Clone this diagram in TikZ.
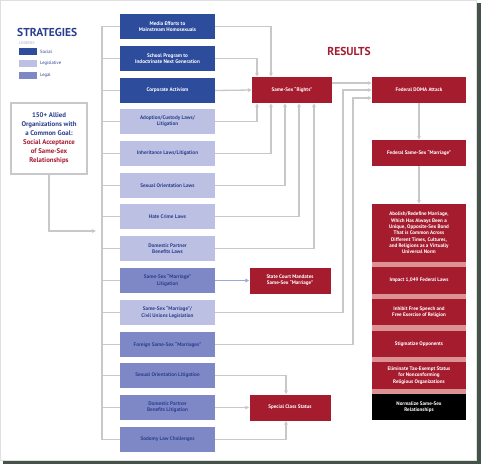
\documentclass[tikz,border=0pt]{standalone}
\usepackage{fontspec}
\setmainfont{PT Sans}
\usetikzlibrary{arrows.meta}
\definecolor{social}{HTML}{2D4C9C}
\definecolor{legis}{HTML}{BCC1E3}
\definecolor{legal}{HTML}{7E88C7}
\definecolor{txtblue}{HTML}{2B3F8F}
\definecolor{resred}{HTML}{A51C2F}
\definecolor{pinksep}{HTML}{DC9193}
\definecolor{conngray}{HTML}{C8C8C8}
\definecolor{bluearrow}{HTML}{9EA7DA}
\definecolor{shadow}{HTML}{44524A}
\tikzset{
  sbox/.style={minimum width=95pt, minimum height=25pt, inner sep=1pt, align=center,
    font=\fontsize{5.2}{6.2}\selectfont\bfseries},
  soc/.style={sbox, fill=social, text=white},
  leg/.style={sbox, fill=legis, text=txtblue},
  lgl/.style={sbox, fill=legal, text=txtblue},
  rbox/.style={fill=resred, text=white, inner sep=1pt, align=center,
    font=\fontsize{5.1}{6.3}\selectfont\bfseries},
  conn/.style={draw=conngray, line width=1.3pt},
  arr/.style={conn, -{Triangle[length=4pt,width=3.6pt]}},
  swatch/.style={minimum width=18pt, minimum height=7pt, inner sep=0pt},
  legtxt/.style={anchor=west, inner sep=0pt, text=txtblue, font=\fontsize{4.6}{5}\selectfont}
}
\begin{document}
\begin{tikzpicture}[x=1pt,y=-1pt]
\useasboundingbox (0,0) rectangle (483,466);
% frame with shadow
\fill[shadow] (3,3) rectangle (481,464);
\fill[white] (0,0) rectangle (477,461);
\draw[gray!25, line width=0.4pt] (0.5,0.5) rectangle (476.5,460.5);

% headings and legend
\node[anchor=west, inner sep=0pt, text=txtblue, font=\fontsize{11.5}{13}\selectfont\bfseries] (strat) at (17,32) {STRATEGIES};
\node[anchor=west, inner sep=0pt, text=txtblue!45, font=\fontsize{4.2}{5}\selectfont] (legend) at (19,43.5) {LEGEND:};
\node[swatch, fill=social, anchor=west] (sw1) at (19,51.5) {};
\node[swatch, fill=legis, anchor=west] (sw2) at (19,63.5) {};
\node[swatch, fill=legal, anchor=west] (sw3) at (19,75) {};
\node[legtxt] (l1) at (40,51.5) {Social};
\node[legtxt] (l2) at (40,63.5) {Legislative};
\node[legtxt] (l3) at (40,75) {Legal};

\node[anchor=center, inner sep=0pt, text=resred, font=\fontsize{11.5}{13}\selectfont\bfseries] (results) at (349,51) {RESULTS};

% goal box
\node[draw=conngray, line width=1.5pt, fill=white, minimum width=76pt, minimum height=71pt, inner sep=1pt,
  align=center, font=\fontsize{6.8}{9}\selectfont\bfseries] (goal) at (49,138.5)
  {\textcolor{txtblue}{150+ Allied}\\\textcolor{txtblue}{Organizations with}\\\textcolor{txtblue}{a Common Goal:}\\
   \textcolor{resred}{Social Acceptance}\\\textcolor{resred}{of Same-Sex}\\\textcolor{resred}{Relationships}};

% strategy boxes
\node[soc] (s1) at (167.5,26.5) {Media Efforts to\\Mainstream Homosexuals};
\node[soc] (s2) at (167.5,58.5) {School Program to\\Indoctrinate Next Generation};
\node[soc] (s3) at (167.5,90.5) {Corporate Activism};
\node[leg] (s4) at (167.5,121.5) {Adoption/Custody Laws/\\Litigation};
\node[leg] (s5) at (167.5,153.5) {Inheritance Laws/Litigation};
\node[leg] (s6) at (167.5,185.5) {Sexual Orientation Laws};
\node[leg] (s7) at (167.5,216.5) {Hate Crime Laws};
\node[leg] (s8) at (167.5,248.5) {Domestic Partner\\Benefits Laws};
\node[lgl] (s9) at (167.5,280.5) {Same-Sex “Marriage”\\Litigation};
\node[leg] (s10) at (167.5,312.5) {Same-Sex “Marriage”/\\Civil Unions Legislation};
\node[lgl] (s11) at (167.5,344.5) {Foreign Same-Sex “Marriages”};
\node[lgl] (s12) at (167.5,375.5) {Sexual Orientation Litigation};
\node[lgl] (s13) at (167.5,407.5) {Domestic Partner\\Benefits Litigation};
\node[lgl] (s14) at (167.5,439.5) {Sodomy Law Challenges};

% result boxes
\node[rbox, minimum width=80pt, minimum height=26pt] (ssr) at (292,90) {Same-Sex “Rights”};
\node[rbox, minimum width=94pt, minimum height=26pt] (doma) at (419,90) {Federal DOMA Attack};
\node[rbox, minimum width=94pt, minimum height=26pt] (fed) at (419,153) {Federal Same-Sex “Marriage”};
\fill[pinksep] (372,258) rectangle (466,398);
\node[rbox, minimum width=94pt, minimum height=58pt] (abol) at (419,233)
  {Abolish/Redefine Marriage,\\Which Has Always Been a\\Unique, Opposite-Sex Bond\\That is Common Across\\Different Times, Cultures,\\and Religions as a Virtually\\Universal Norm};
\node[rbox, minimum width=94pt, minimum height=27pt] (imp) at (419,280.5) {Impact 1,049 Federal Laws};
\node[rbox, minimum width=94pt, minimum height=26pt] (inh) at (419,312) {Inhibit Free Speech and\\Free Exercise of Religion};
\node[rbox, minimum width=94pt, minimum height=26pt] (stig) at (419,344) {Stigmatize Opponents};
\node[rbox, minimum width=94pt, minimum height=27pt] (elim) at (419,375.5) {Eliminate Tax-Exempt Status\\for Nonconforming\\Religious Organizations};
\node[rbox, fill=black, minimum width=94pt, minimum height=26pt] (norm) at (419,407) {Normalize Same-Sex\\Relationships};
\node[rbox, minimum width=81pt, minimum height=26pt] (scm) at (290,280.5) {State Court Mandates\\Same-Sex “Marriage”};
\node[rbox, minimum width=81pt, minimum height=26pt] (scs) at (290,407.5) {Special Class Status};

% bus and goal arrow
\coordinate (bb) at (102,439.5);
\coordinate (gend) at (96,231);
\draw[conn] (s1.west) -| (bb) -- (s14.west);
\foreach \i in {2,...,13} {\draw[conn] (s\i.west) -- (s\i.west -| bb);}
\draw[arr] (goal.south) |- (gend);

% to Same-Sex Rights
\draw[arr] (s1.east) -| ([xshift=-21pt]ssr.north);
\draw[arr] (s2.east) -| ([xshift=-35pt]ssr.north);
\draw[arr] (s3.east) -- (ssr.west);
\draw[arr] (s4.east) -| ([xshift=-35pt]ssr.south);
\draw[arr] (s5.east) -| ([xshift=-21pt]ssr.south);
\draw[arr] (s6.east) -| ([xshift=-7pt]ssr.south);
\draw[arr] (s7.east) -| ([xshift=7pt]ssr.south);
\draw[arr] (s8.east) -| ([xshift=22pt]ssr.south);

% to DOMA
\coordinate (j10) at (343,90);
\coordinate (j11) at (353,98);
\draw[arr] ([yshift=7pt]ssr.east) -- ([yshift=7pt]doma.west);
\draw[arr] (s10.east) -| (j10) -- (doma.west);
\draw[arr] (s11.east) -| (j11) -- (doma.west |- j11);

% state court and special class
\draw[draw=bluearrow, line width=1.1pt, -{Triangle[length=4pt,width=3.6pt]}] (s9.east) -- (scm.west);
\draw[arr] (s12.east) -| ([xshift=-4pt]scs.north);
\draw[arr] (s13.east) -- (scs.west);
\draw[arr] (s14.east) -| ([xshift=-4pt]scs.south);

% results chain
\draw[arr] (doma.south) -- (fed.north);
\draw[arr] (fed.south) -- (abol.north);
\end{tikzpicture}
\end{document}
